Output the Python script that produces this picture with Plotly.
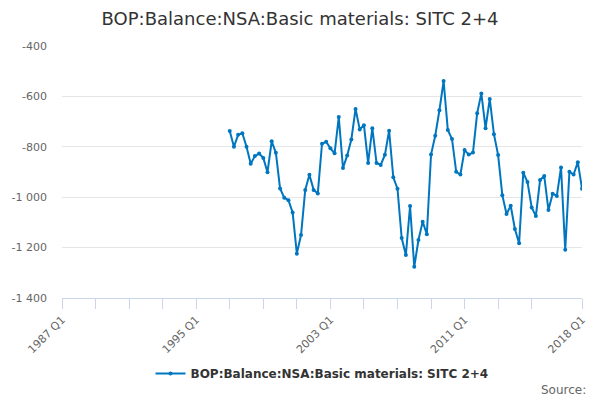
import plotly.graph_objects as go

# Categories: 1987 Q1 .. 2018 Q1
quarters = [f"{y} Q{q}" for y in range(1987, 2019) for q in range(1, 5)]
quarters = quarters[: quarters.index("2018 Q1") + 1]

start = "1997 Q1"
values = [
    -737, -800, -752, -746, -800, -867, -837, -827, -844, -901,
    -778, -824, -965, -1002, -1012, -1061, -1224, -1150, -971, -911,
    -971, -985, -788, -780, -806, -826, -682, -884, -835, -771,
    -650, -731, -714, -864, -726, -864, -872, -832, -736, -921,
    -966, -1162, -1229, -1035, -1276, -1170, -1097, -1147, -831, -756,
    -655, -539, -733, -769, -899, -910, -813, -831, -823, -667,
    -588, -726, -610, -750, -833, -992, -1067, -1034, -1126, -1183,
    -903, -940, -1041, -1075, -932, -916, -1051, -986, -995, -882,
    -1209, -899, -910, -861, -966,
]
i0 = quarters.index(start)
y_full = [None] * i0 + values

series_name = "BOP:Balance:NSA:Basic materials: SITC 2+4"
title_text = "BOP:Balance:NSA:Basic materials: SITC 2+4"

x_tickvals = ["1987 Q1", "1989 Q1", "1991 Q1", "1993 Q1", "1995 Q1", "1997 Q1",
              "1999 Q1", "2001 Q1", "2003 Q1", "2005 Q1", "2007 Q1", "2009 Q1",
              "2011 Q1", "2013 Q1", "2015 Q1", "2018 Q1"]
x_labeled = ["1987 Q1", "1995 Q1", "2003 Q1", "2011 Q1", "2018 Q1"]
x_ticktext = [v if v in x_labeled else "" for v in x_tickvals]

y_tickvals = [-1400, -1200, -1000, -800, -600, -400]
y_ticktext = ["-1 400", "-1 200", "-1 000", "-800", "-600", "-400"]

color = "#0076c0"
font = "DejaVu Sans"

fig = go.Figure()
fig.add_trace(go.Scatter(
    x=quarters, y=y_full, mode="lines+markers", name=series_name,
    line=dict(color=color, width=2), marker=dict(color=color, size=4),
    connectgaps=False,
))

fig.update_layout(
    width=600, height=400,
    margin=dict(l=62, r=18, t=46, b=102),
    paper_bgcolor="white", plot_bgcolor="white",
    font=dict(family=font, color="#666666", size=11),
    title=dict(text=title_text, x=0.5, xanchor="center", y=0.953, yanchor="middle",
               font=dict(family=font, size=18, color="#333333")),
    showlegend=True,
    legend=dict(orientation="h", x=0.5, xanchor="center", y=-0.30, yanchor="middle",
                font=dict(family=font, size=12, color="#333333", weight="bold"),
                itemwidth=30),
    xaxis=dict(
        type="category", categoryorder="array", categoryarray=quarters,
        range=[0, len(quarters) - 1],
        tickmode="array", tickvals=x_tickvals, ticktext=x_ticktext,
        tickangle=-45, ticks="outside", ticklen=10, tickcolor="#ccd6eb",
        showline=True, linecolor="#ccd6eb", linewidth=1,
        showgrid=False, zeroline=False,
        tickfont=dict(family=font, size=11, color="#666666"),
    ),
    yaxis=dict(
        range=[-1400, -400], tickmode="array", tickvals=y_tickvals, ticktext=y_ticktext,
        showgrid=True, gridcolor="#e6e6e6", gridwidth=1, zeroline=False,
        showline=False, ticks="", ticklabelstandoff=14,
        tickfont=dict(family=font, size=11, color="#666666"),
    ),
    annotations=[dict(text="Source:", xref="paper", yref="paper", x=1.012, y=-0.365,
                      xanchor="right", yanchor="middle", showarrow=False,
                      font=dict(family=font, size=12, color="#666666"))],
)

fig.write_html("out.html", config={"displayModeBar": False},
               post_script="document.body.style.margin='0';")
